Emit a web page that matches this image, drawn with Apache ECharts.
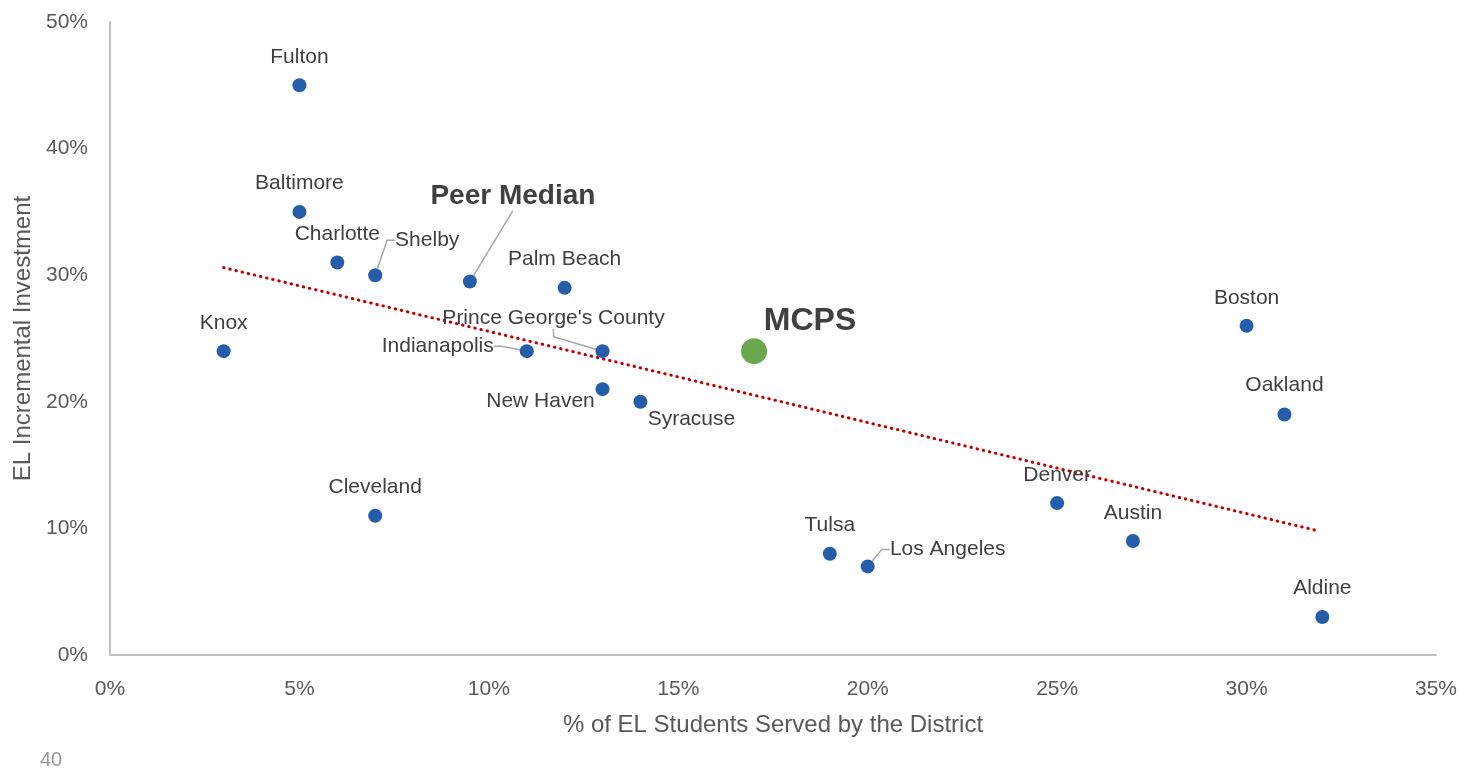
<!DOCTYPE html>
<html>
<head>
<meta charset="utf-8">
<script src="https://cdn.jsdelivr.net/npm/echarts@6/dist/echarts.min.js"></script>
<style>
html,body{margin:0;padding:0;background:#fff;}
#chart{width:1460px;height:772px;}
</style>
</head>
<body>
<div id="chart"></div>
<script>
// ---- data ----
const districts = ["Fulton","Baltimore","Charlotte","Shelby","Palm Beach","Knox","Indianapolis","Prince George's County","New Haven","Syracuse","Cleveland","Tulsa","Los Angeles","Denver","Austin","Boston","Oakland","Aldine"];
const elServed = [5,5,6,7,12,3,11,13,13,14,7,19,20,25,27,30,31,32];
const elInvestment = [45,35,31,30,29,24,24,24,21,20,11,8,7,12,9,26,19,3];
const peerName = ["Peer Median"];
const peerServed = [9.5];
const peerInvestment = [29.5];
const mcpsName = ["MCPS"];
const mcpsServed = [17];
const mcpsInvestment = [24];
const trendX = [3, 31.9];
const trendY = [30.6, 9.8];
const xTicks = [0,5,10,15,20,25,30,35];
const yTicks = [0,10,20,30,40,50];
const xTitle = "% of EL Students Served by the District";
const yTitle = "EL Incremental Investment";
const pageNumber = "40";

// ---- label placement (style, not data): offset of label centre from point centre ----
const labelOffsets = {
  "Fulton":[0,-28],"Baltimore":[0,-29],"Charlotte":[0,-28],"Shelby":[52,-35],
  "Palm Beach":[0,-29],"Knox":[0,-28],"Indianapolis":[-89,-5],"Prince George's County":[-49,-33],
  "New Haven":[-62,12],"Syracuse":[51,17],"Cleveland":[0,-29],"Tulsa":[0,-29],
  "Los Angeles":[80,-17],"Denver":[0,-28],"Austin":[0,-28],"Boston":[0,-28],
  "Oakland":[0,-29],"Aldine":[0,-29],"Peer Median":[43,-85],"MCPS":[56,-30]
};
const withLeader = ["Shelby","Indianapolis","Prince George's County","Los Angeles","Peer Median"];

const FONT = "'Liberation Sans Narrow','Arial Narrow','Liberation Sans',Arial,sans-serif";
const BLUE = '#255dab';
const TXT = '#404040';
const TICK = '#595959';

function layoutFn(params){
  const name = params.text;
  const off = labelOffsets[name] || [0,-29];
  const r = params.rect;
  return {
    x: r.x + r.width/2 + off[0],
    y: r.y + r.height/2 + off[1],
    align: 'center',
    verticalAlign: 'middle'
  };
}

function mkData(names, xs, ys){
  return names.map((n,i)=>({
    name:n,
    value:[xs[i], ys[i]],
    labelLine:{show: withLeader.indexOf(n) >= 0}
  }));
}

const chart = echarts.init(document.getElementById('chart'));
chart.setOption({
  animation:false,
  backgroundColor:'#fff',
  textStyle:{fontFamily:FONT},
  grid:{left:110, right:24, top:22, bottom:117, containLabel:false, outerBoundsMode:'none'},
  xAxis:{
    type:'value', min:xTicks[0], max:xTicks[xTicks.length-1], interval:5,
    name:xTitle, nameLocation:'middle', nameGap:58,
    nameTextStyle:{color:TICK, fontSize:24, fontFamily:FONT},
    axisLine:{show:true, lineStyle:{color:'#bfbfbf', width:2}},
    axisTick:{show:false},
    splitLine:{show:false},
    axisLabel:{formatter:'{value}%', color:TICK, fontSize:21, fontFamily:FONT, margin:24}
  },
  yAxis:{
    type:'value', min:yTicks[0], max:yTicks[yTicks.length-1], interval:10,
    name:yTitle, nameLocation:'middle', nameGap:75,
    nameTextStyle:{color:TICK, fontSize:24, fontFamily:FONT},
    axisLine:{show:true, lineStyle:{color:'#bfbfbf', width:2}},
    axisTick:{show:false},
    splitLine:{show:false},
    axisLabel:{formatter:'{value}%', color:TICK, fontSize:21, fontFamily:FONT, margin:22}
  },
  graphic:[{
    type:'text', left:40, top:750,
    style:{text:pageNumber, fill:'#9a9a9a', fontSize:20, fontFamily:FONT}
  }],
  series:[
    {
      type:'line', name:'trend',
      data:trendX.map((x,i)=>[x, trendY[i]]),
      showSymbol:false, symbol:'none',
      lineStyle:{color:'#c00000', width:3, type:[0.5,5.8], cap:'round'},
      z:1, silent:true
    },
    {
      type:'scatter', name:'districts',
      data:mkData(districts, elServed, elInvestment),
      symbolSize:14,
      itemStyle:{color:BLUE, opacity:1},
      label:{show:true, formatter:'{b}', color:TXT, fontSize:21, fontFamily:FONT},
      labelLine:{show:false, lineStyle:{color:'#a6a6a6', width:1.5}, length2:8},
      labelLayout:layoutFn,
      z:3
    },
    {
      type:'scatter', name:'peer',
      data:mkData(peerName, peerServed, peerInvestment),
      symbolSize:14,
      itemStyle:{color:BLUE, opacity:1},
      label:{show:true, formatter:'{b}', color:TXT, fontSize:28, fontWeight:'bold', fontFamily:FONT},
      labelLine:{show:true, lineStyle:{color:'#a6a6a6', width:1.5}},
      labelLayout:layoutFn,
      z:3
    },
    {
      type:'scatter', name:'mcps',
      data:mkData(mcpsName, mcpsServed, mcpsInvestment),
      symbolSize:26,
      itemStyle:{color:'#6aa84f', opacity:1},
      label:{show:true, formatter:'{b}', color:TXT, fontSize:32, fontWeight:'bold', fontFamily:FONT},
      labelLayout:layoutFn,
      z:3
    }
  ]
});
</script>
</body>
</html>
